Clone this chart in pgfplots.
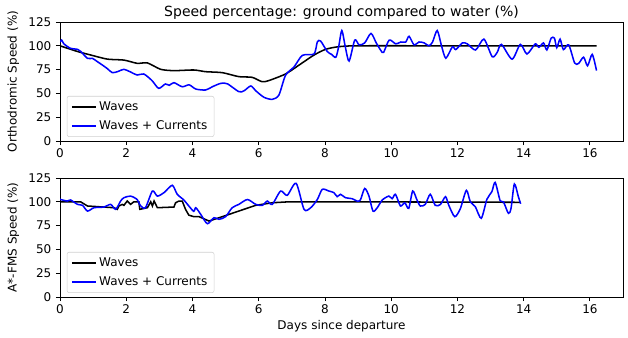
\documentclass[border=0pt]{standalone}
\usepackage{fontspec}
\setmainfont{DejaVu Sans}
\usepackage{pgfplots}
\pgfplotsset{compat=1.18}
\newcommand{\tfont}{\fontsize{9}{10.5}\selectfont}
\begin{document}
\begin{tikzpicture}
\useasboundingbox (-45pt,105.75pt) rectangle (426pt,-147pt);
\pgfplotsset{
  every axis/.append style={
    scale only axis, width=422.25pt, height=89.25pt,
    xmin=0, xmax=17, ymin=0, ymax=125,
    xtick={0,2,...,16}, ytick={0,25,50,75,100,125},
    tick align=outside, xtick pos=bottom, ytick pos=left,
    major tick length=3pt,
    tick style={black, line width=0.6pt},
    axis line style={line width=0.6pt},
    ticklabel style={font=\tfont},
    xticklabel style={yshift=1pt},
    label style={font=\tfont},
    /pgf/number format/assume math mode=true,
    legend style={at={(0.012,0.035)}, anchor=south west, font=\tfont,
      draw=black!18, rounded corners=1.5pt, row sep=2pt,
      nodes={inner sep=2pt}},
    legend cell align=left,
    legend image code/.code={\draw[#1] (0pt,0pt) -- (18pt,0pt);},
  },
  wav/.style={black, line width=1.15pt},
  cur/.style={blue, line width=1.15pt},
}
\begin{axis}[name=top, at={(0pt,0pt)}, anchor=south west,
  title={Speed percentage: ground compared to water (\%)},
  title style={font=\fontsize{10.5}{12}\selectfont, yshift=-7.5pt},
  ylabel={Orthodromic Speed (\%)}]
\addplot[wav, smooth, tension=0.4] coordinates {
(0,100) (0.53,94) (0.93,90.3) (1.43,86) (1.93,85) (2.33,81.6) (2.64,82)
(3.04,75.3) (3.44,73.9) (4.04,74.6) (4.4,72.8) (4.9,71.8) (5.4,67.6)
(5.8,66.9) (6.1,62.3) (6.3,63.4) (6.81,70.4) (7.22,79.8) (7.67,90.3)
(8.02,96.3) (8.4,99) (9.0,100) (12,100) (16.2,100)};
\addlegendentry{Waves}
\addplot[cur, smooth, tension=0.45] coordinates {
(0,104) (0.05,106) (0.12,102) (0.32,97.3) (0.53,96.3) (0.63,94) (0.83,86.8)
(0.98,86.8) (1.13,83.3) (1.28,79.8) (1.43,76) (1.58,71.8) (1.75,73)
(1.93,75.3) (2.13,72.5) (2.33,69.3) (2.53,70.4) (2.78,63.4) (2.98,55.3)
(3.18,59.9) (3.30,58.5) (3.44,61.3) (3.69,57) (3.90,59) (4.10,54.6)
(4.40,53.6) (4.60,57) (4.86,60.6) (5.06,60) (5.40,51.8) (5.56,52.8)
(5.76,57.8) (5.91,52.8) (6.16,45.9) (6.41,43.8) (6.61,48.3) (6.81,69)
(7.07,78) (7.32,90) (7.67,91.4) (7.77,104) (7.87,105) (8.07,94) (8.20,91)
(8.33,88) (8.42,100) (8.51,116) (8.62,98) (8.73,84) (8.90,106) (9.03,101)
(9.20,103) (9.39,113) (9.55,103) (9.69,95) (9.77,93) (9.94,106) (10.14,102)
(10.29,104) (10.44,104) (10.54,110) (10.69,101) (10.84,104) (11.00,103)
(11.14,100) (11.25,104) (11.39,116) (11.52,100) (11.65,87) (11.85,99)
(11.95,96) (12.15,103) (12.3,102) (12.55,95.6) (12.8,107) (13.05,88.6)
(13.2,93) (13.33,101.5) (13.65,86) (13.9,101.5) (14.1,91.4) (14.35,102)
(14.46,98.4) (14.6,103) (14.7,95.6) (14.83,108) (14.93,108) (15.0,98)
(15.1,107) (15.2,96) (15.36,101) (15.54,82) (15.66,81.5) (15.81,88)
(15.93,79) (16.07,91) (16.2,74)};
\addlegendentry{Waves + Currents}
\end{axis}
\begin{axis}[at={(0pt,-27.75pt)}, anchor=north west,
  xlabel={Days since departure},
  xlabel style={yshift=2pt},
  ylabel={A*-FMS Speed (\%)}]
\addplot[wav] coordinates {
(0,100) (0.62,100) (0.83,95.6) (1.63,93.8) (1.73,92.1) (1.78,95.6)
(1.88,97.3) (1.93,96.3) (2.03,100.8) (2.13,97.3) (2.23,100) (2.38,100)
(2.41,92.1) (2.64,93.8) (2.74,100) (2.79,95.6) (2.84,100.8) (2.94,93.8)
(3.44,94.5) (3.49,99) (3.59,100.8) (3.69,100.8) (3.79,92.1) (3.89,86)
(4.04,84.4) (4.2,84.4) (4.5,79.8) (4.9,84.4) (5.4,90.3) (5.91,96.3)
(6.41,99) (6.91,100) (8.5,100) (13.91,99.5)};
\addlegendentry{Waves}
\addplot[cur, smooth, tension=0.45] coordinates {
(0,103) (0.02,102.4) (0.22,100.8) (0.32,101.9) (0.53,97.3) (0.68,96.3)
(0.83,90.3) (1.03,93.8) (1.33,94.5) (1.53,97.3) (1.68,92.1) (1.83,100.8)
(1.93,104.3) (2.13,106) (2.33,102.4) (2.43,96) (2.58,93.8) (2.79,111.3)
(2.94,106) (3.14,109.6) (3.39,117.3) (3.54,107.9) (3.74,101.9) (3.89,95.6)
(4.04,90) (4.10,93.8) (4.25,86.8) (4.45,77) (4.65,83.3) (4.80,81.6)
(5.00,84.4) (5.20,93.8) (5.40,97.3) (5.66,102.4) (5.91,97.3) (6.11,96.3)
(6.26,100.8) (6.41,97.3) (6.66,111.3) (6.86,106.8) (7.13,119.4) (7.37,92)
(7.57,93.8) (7.77,102.4) (7.92,113.1) (8.12,111.3) (8.27,109.6) (8.37,105.4)
(8.47,107.9) (8.62,104.3) (8.82,103.3) (8.97,100.8) (9.07,101.9) (9.20,114)
(9.33,106) (9.45,90.3) (9.58,93.8) (9.73,101.9) (9.93,106) (10.03,103.3)
(10.13,107.9) (10.28,95.6) (10.41,99) (10.53,93.1) (10.65,111.3)
(10.78,101.9) (10.88,95.6) (11.03,97.3) (11.18,107.9) (11.33,96.3)
(11.49,97.3) (11.64,105.4) (11.74,96.3) (11.92,84.4) (12.09,93) (12.27,112)
(12.39,100) (12.54,94.9) (12.72,82.7) (12.89,102.6) (13.04,110.6)
(13.14,120.4) (13.29,101.2) (13.39,100) (13.54,87.9) (13.62,93.3)
(13.72,118.7) (13.84,105.4) (13.91,98)};
\addlegendentry{Waves + Currents}
\end{axis}
\end{tikzpicture}
\end{document}
